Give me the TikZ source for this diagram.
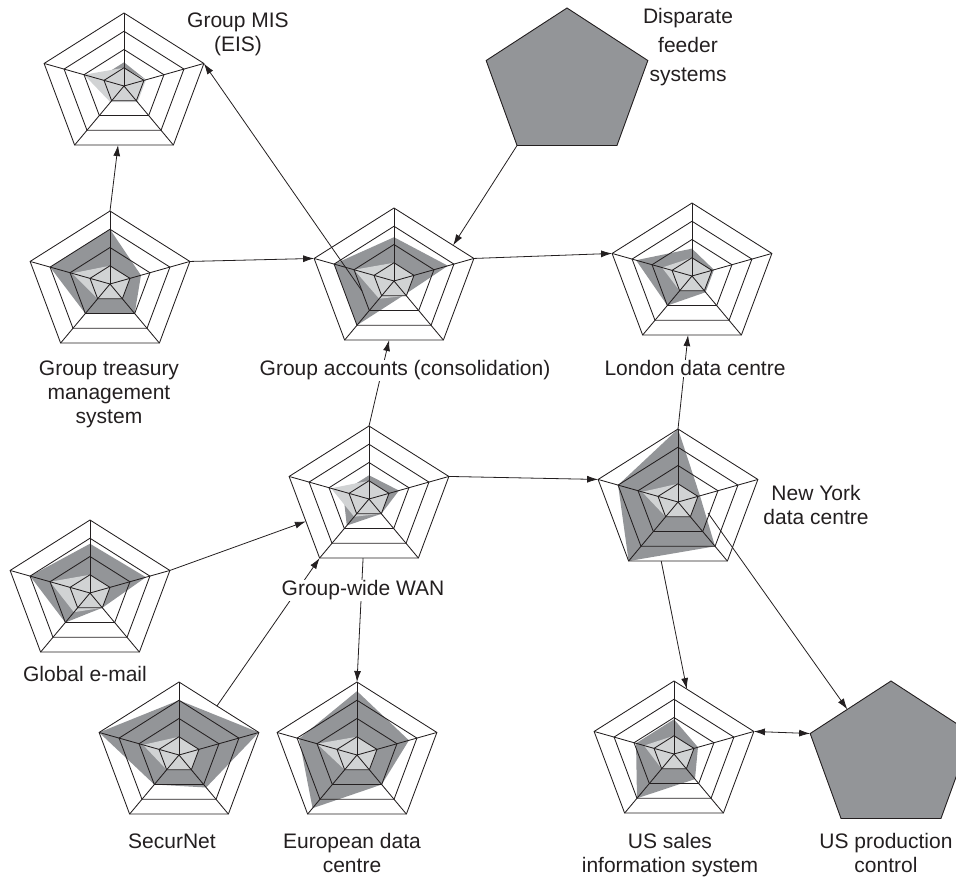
\documentclass[tikz,border=0pt]{standalone}
\usepackage{fontspec}
\setmainfont{Liberation Sans}
\usetikzlibrary{arrows.meta,calc}
\definecolor{dkg}{HTML}{939598}
\definecolor{ltg}{HTML}{D1D3D4}
\definecolor{ink}{HTML}{231F20}

\newcommand{\radarchart}[5]{%
  \coordinate (#1) at (#2,#3);
  \foreach \k in {0,...,4}{
    \coordinate (#1-\k) at ({#2+84*cos(90-72*\k)},{#3-73*sin(90-72*\k)});
  }
  \foreach \v [count=\i from 0] in {#4}{
    \coordinate (#1-d\i) at ({#2+21*\v*cos(90-72*\i)},{#3-18.25*\v*sin(90-72*\i)});
  }
  \foreach \v [count=\i from 0] in {#5}{
    \coordinate (#1-l\i) at ({#2+21*\v*cos(90-72*\i)},{#3-18.25*\v*sin(90-72*\i)});
  }
  \fill[dkg] (#1-d0) -- (#1-d1) -- (#1-d2) -- (#1-d3) -- (#1-d4) -- cycle;
  \fill[ltg] (#1-l0) -- (#1-l1) -- (#1-l2) -- (#1-l3) -- (#1-l4) -- cycle;
  \foreach \r in {1,2,3}{
    \draw[ring] ({#2},{#3-18.25*\r})
      -- ({#2+21*\r*cos(18)},{#3-18.25*\r*sin(18)})
      -- ({#2+21*\r*cos(-54)},{#3-18.25*\r*sin(-54)})
      -- ({#2+21*\r*cos(-126)},{#3-18.25*\r*sin(-126)})
      -- ({#2+21*\r*cos(162)},{#3-18.25*\r*sin(162)}) -- cycle;
  }
  \draw[ring] (#1-0) -- (#1-1) -- (#1-2) -- (#1-3) -- (#1-4) -- cycle;
  \foreach \k in {0,...,4}{ \draw[ring] (#1) -- (#1-\k); }
}

\newcommand{\solidpent}[3]{%
  \coordinate (#1) at (#2,#3);
  \foreach \k in {0,...,4}{
    \coordinate (#1-\k) at ({#2+85*cos(90-72*\k)},{#3-76*sin(90-72*\k)});
  }
  \filldraw[fill=dkg,draw=ink,line width=0.9pt,line join=miter]
    (#1-0) -- (#1-1) -- (#1-2) -- (#1-3) -- (#1-4) -- cycle;
}

\begin{document}
\begin{tikzpicture}[x=1pt,y=-1pt,
  ring/.style={draw=ink,line width=0.85pt,line join=miter},
  conn/.style={draw=ink,line width=0.8pt,-{Latex[length=11pt,width=7pt]}},
  biconn/.style={draw=ink,line width=0.8pt,{Latex[length=11pt,width=7pt]}-{Latex[length=11pt,width=7pt]}},
  lab/.style={font=\fontsize{21}{24}\selectfont,align=center,text=ink,inner sep=0.5pt,anchor=north}]
\useasboundingbox (0,0) rectangle (956,876);
\clip (0,0) rectangle (956,876);

% charts
\radarchart{mis}{124}{86}{1.3,1.1,0.7,0.7,1.3}{1,1.1,1.1,1.1,2}
\radarchart{treas}{110}{284}{3,1.55,2,2,3}{1,1,1,1,1.9}
\radarchart{acc}{394}{281}{2.4,2.7,0.9,3,3}{1,1,1,1.2,2}
\radarchart{lon}{692}{276}{1.5,1.1,1.1,2,2.8}{1,1,1,1,1.5}
\radarchart{wan}{369}{499}{1.3,1.5,1,1.8,1.3}{1,1,1,1.2,1.9}
\radarchart{ny}{678}{502}{4,1.1,3,4,3}{1,1,1,1,1.8}
\radarchart{mail}{90}{593}{2.7,2.8,1,2,3}{1,1,1,1.3,2}
\radarchart{sec}{179}{755}{3,4,2.2,2,4}{1,1,1,1,1.8}
\radarchart{eur}{357}{755}{3.5,2.6,2,3.6,2.9}{1,1,1,1,2}
\radarchart{us}{674}{754}{1.9,1.2,1.7,3,1.9}{1,1,1,1,1.5}
\solidpent{feed}{567}{84}
\solidpent{prod}{891}{757}

% free ends
\coordinate (accin) at (362,291);
\coordinate (nyin) at (708,513);

% connectors
\draw[conn] (treas-0) -- ($(mis-3)!0.44!(mis-2)$);
\draw[conn] (accin) -- (mis-1);
\draw[conn] (treas-1) -- (acc-4);
\draw[conn] (feed-3) -- ($(acc-0)!0.74!(acc-1)$);
\draw[conn] (acc-1) -- (lon-4);
\draw[conn] (ny-0) -- ($(lon-3)!0.46!(lon-2)$);
\draw[conn] (wan-0) -- ($(acc-3)!0.45!(acc-2)$);
\draw[conn] (wan-1) -- (ny-4);
\draw[conn] (mail-1) -- ($(wan-4)!0.55!(wan-3)$);
\draw[conn] ($(sec-0)!0.475!(sec-1)$) -- (wan-3);
\draw[conn] ($(wan-3)!0.44!(wan-2)$) -- (eur-0);
\draw[conn] ($(ny-3)!0.33!(ny-2)$) -- ($(us-0)!0.16!(us-1)$);
\draw[conn] (nyin) -- ($(prod-4)!0.46!(prod-0)$);
\draw[biconn] (us-1) -- (prod-4);

% labels
\node[lab] (lmis) at (238,12) {Group MIS\\(EIS)};
\node[lab,font=\fontsize{21}{29}\selectfont] (lfeed) at (688,8) {Disparate\\feeder\\systems};
\node[lab] (ltreas) at (109,360) {Group treasury\\management\\system};
\node[lab,fill=white] (lacc) at (405,360) {Group accounts (consolidation)};
\node[lab,fill=white] (llon) at (695,360) {London data centre};
\node[lab] (lny) at (816,485) {New York\\data centre};
\node[lab] (lmail) at (85,666) {Global e-mail};
\node[lab,fill=white] (lwan) at (363,580) {Group-wide WAN};
\node[lab] (lsec) at (172,833) {SecurNet};
\node[lab] (leur) at (352,833) {European data\\centre};
\node[lab] (lus) at (670,833) {US sales\\information system};
\node[lab] (lprod) at (886,833) {US production\\control};
\end{tikzpicture}
\end{document}
